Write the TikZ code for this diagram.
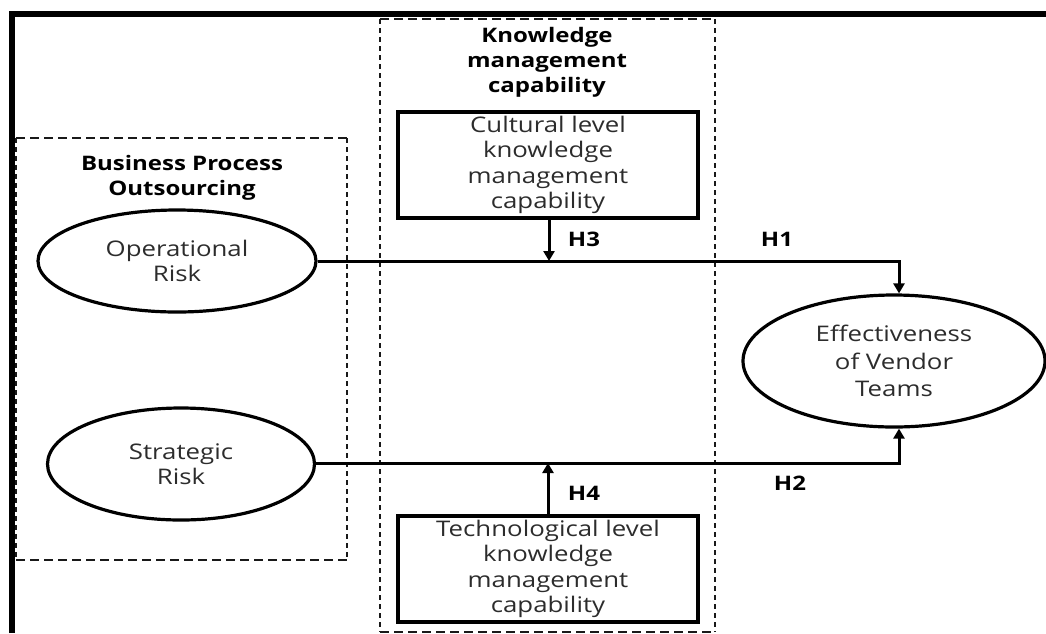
\documentclass[tikz,border=0pt]{standalone}
\usepackage{fontspec}
\setmainfont{Open Sans}[FakeStretch=1.2]
\usetikzlibrary{shapes.geometric,arrows.meta}
\definecolor{txtgray}{HTML}{2C2C2C}
\tikzset{
  frameline/.style={line width=5.5pt,black},
  hdash/.style={line width=2.8pt,black!90,dash pattern=on 9pt off 5pt},
  vdash/.style={line width=2.8pt,black!90,dash pattern=on 5pt off 4pt},
  construct/.style={ellipse,draw,line width=3.2pt,inner sep=0pt,align=center,text=txtgray,
    font=\fontsize{21.5}{24.5}\selectfont},
  kmbox/.style={rectangle,draw,line width=3.8pt,inner sep=0pt,align=center,text=txtgray,
    minimum width=300pt,minimum height=106pt,font=\fontsize{21.5}{25.5}\selectfont},
  titletext/.style={align=center,font=\bfseries\fontsize{20}{25}\selectfont,inner sep=0pt},
  hlabel/.style={font=\bfseries\fontsize{20}{20}\selectfont,inner sep=0pt},
  conn/.style={line width=3pt},
  arr/.style={conn,-{Triangle[length=10pt,width=11pt]}},
}
\begin{document}
\begin{tikzpicture}[x=1pt,y=-1pt]
\useasboundingbox (0,0) rectangle (1046,633);
% outer frame (left and top edges)
\coordinate (ftl) at (12,14);
\coordinate (ftr) at (1046,14);
\coordinate (fbl) at (12,633);
\draw[frameline] (fbl) -- (ftl) -- (ftr);
% dashed group boxes
\coordinate (bpoA) at (16,138);
\coordinate (bpoB) at (347,138);
\coordinate (bpoC) at (347,560);
\coordinate (bpoD) at (16,560);
\draw[hdash] (bpoA) -- (bpoB);
\draw[hdash] (bpoD) -- (bpoC);
\draw[vdash] (bpoB) -- (bpoC);
\draw[vdash] (bpoA) -- (bpoD);
\coordinate (kmA) at (380,19);
\coordinate (kmB) at (715,19);
\coordinate (kmC) at (715,632);
\coordinate (kmD) at (380,632);
\draw[hdash] (kmA) -- (kmB);
\draw[hdash] (kmD) -- (kmC);
\draw[vdash] (kmB) -- (kmC);
\draw[vdash] (kmA) -- (kmD);
% titles
\node[titletext] (bpot) at (182,178) {Business Process\\Outsourcing};
\node[titletext] (kmt) at (547,62) {Knowledge\\management\\capability};
% constructs
\node[construct,minimum width=278pt,minimum height=102pt] (op) at (177,261) {Operational\\Risk};
\node[construct,minimum width=267pt,minimum height=112pt] (st) at (181,464) {Strategic\\Risk};
\node[construct,minimum width=302pt,minimum height=132pt,font=\fontsize{21.5}{27.5}\selectfont] (eff) at (894,361) {Effectiveness\\of Vendor\\Teams};
\node[kmbox] (cul) at (548,165) {Cultural level\\knowledge\\management\\capability};
\node[kmbox] (tec) at (548,569) {Technological level\\knowledge\\management\\capability};
% junction coordinates
\coordinate (j1) at (899,261);
\coordinate (j2) at (899,463);
\coordinate (m3) at (549,261);
\coordinate (m4) at (548,463);
% connectors
\draw[arr] (op.east) -- (j1) -- (eff.north -| j1);
\draw[arr] (st.east |- j2) -- (j2) -- (eff.south -| j2);
\draw[arr] (cul.south -| m3) -- (m3);
\draw[arr] (tec.north -| m4) -- (m4);
% labels
\node[hlabel] (h1) at (777,239) {H1};
\node[hlabel] (h2) at (790,483) {H2};
\node[hlabel] (h3) at (584,239) {H3};
\node[hlabel] (h4) at (584,493) {H4};
\end{tikzpicture}
\end{document}
